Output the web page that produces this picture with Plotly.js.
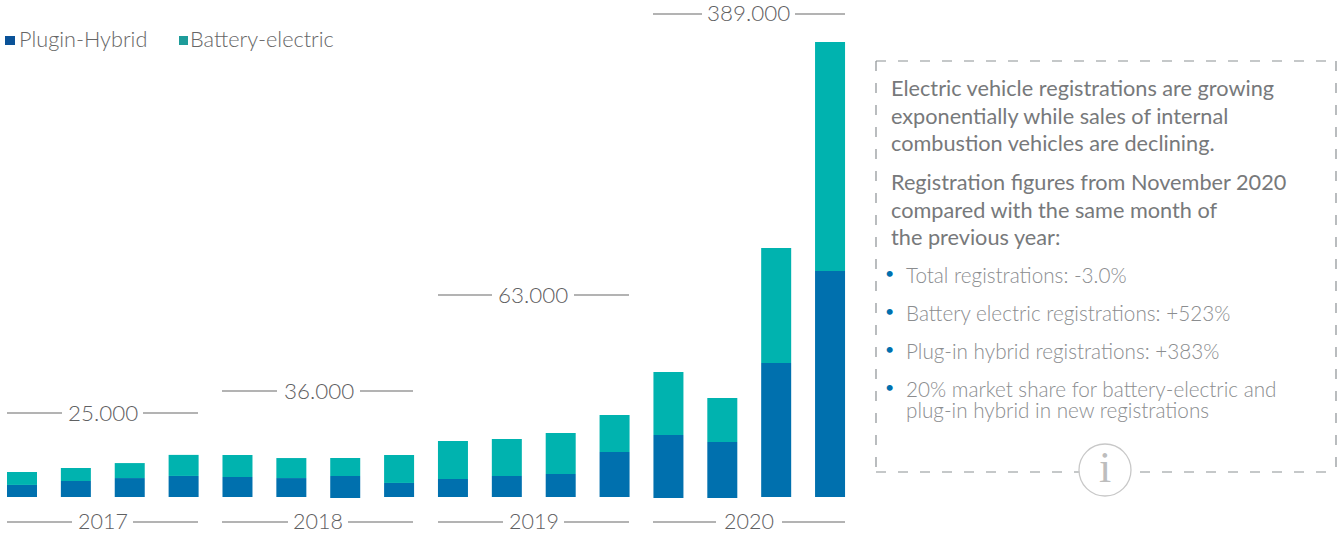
<!DOCTYPE html>
<html><head><meta charset="utf-8">
<script src="https://cdn.plot.ly/plotly-3.0.1.min.js"></script>
<style>html,body{margin:0;padding:0;background:#fff;overflow:hidden}#c{width:1341px;height:535px}</style>
</head><body><div id="c"></div>
<script>
const W = 1341, H = 535;
const quarters = ['2017 Q1','2017 Q2','2017 Q3','2017 Q4','2018 Q1','2018 Q2','2018 Q3','2018 Q4','2019 Q1','2019 Q2','2019 Q3','2019 Q4','2020 Q1','2020 Q2','2020 Q3','2020 Q4'];
const pluginHybrid = [10300,13700,16200,18000,17100,16200,18800,12000,15400,18000,19700,38500,53900,47900,114600,193200];
const batteryElectric = [11100,11100,12800,18000,18800,17100,15400,23900,32500,31600,35100,31600,53900,37600,98300,195800];
const baseOffset = [0,0,0,0,0,0,-855,0,0,0,0,0,-855,-855,0,0];
const yearLabels = ['2017','2018','2019','2020'];
const yearTotals = ['25.000','36.000','63.000','389.000'];
const legendNames = ['Plugin-Hybrid','Battery-electric'];
const introLines = ['Electric vehicle registrations are growing','exponentially while sales of internal','combustion vehicles are declining.','Registration figures from November 2020','compared with the same month of','the previous year:'];
const bullets = ['Total registrations: -3.0%','Battery electric registrations: +523%','Plug-in hybrid registrations: +383%','20% market share for battery-electric and','plug-in hybrid in new registrations'];

const BLUE = '#0070ae', TEAL = '#00b3af';
const idx = quarters.map((_, i) => i);
const sp = 53.87, x0 = 22;
const FONT = 'Lato, sans-serif';
const px = x => x / W, py = y => 1 - y / H;

const traces = [
  {type:'bar', name:legendNames[0], x:idx, y:pluginHybrid, base:baseOffset, marker:{color:BLUE}, width:0.557, hoverinfo:'x+y'},
  {type:'bar', name:legendNames[1], x:idx, y:batteryElectric, base:pluginHybrid.map((v,i)=>v+baseOffset[i]), marker:{color:TEAL}, width:0.557, hoverinfo:'x+y'}
];

const shapes = [], annotations = [];
function line(x1,y1,x2,y2,color,width,dash){
  shapes.push({type:'line',xref:'paper',yref:'paper',x0:px(x1),x1:px(x2),y0:py(y1),y1:py(y2),line:{color,width,dash:dash||'solid'}});
}
function text(t,x,y,size,color,anchor,weight){
  annotations.push({text:t,xref:'paper',yref:'paper',x:px(x),y:py(y),xanchor:anchor||'left',yanchor:'middle',showarrow:false,
    font:{family:FONT,size,color,weight:weight||400},borderpad:0,borderwidth:0});
}
// Year and total brackets
const yearSeg = [[7,72,133,198],[222,288,348,413],[438,503,564,629],[653,716,782,845]];
const totalSeg = [[7,62,143,198,413],[222,277,360,413,391],[438,492,574,629,295],[653,702,795,845,14]];
yearLabels.forEach((t,i)=>{
  const s = yearSeg[i];
  line(s[0],522,s[1],522,'#9a9a9a',1.3); line(s[2],522,s[3],522,'#9a9a9a',1.3);
  text(t,(s[1]+s[2])/2,521,21.5,'#5f6062','center',300);
});
yearTotals.forEach((t,i)=>{
  const s = totalSeg[i];
  line(s[0],s[4],s[1],s[4],'#9a9a9a',1.3); line(s[2],s[4],s[3],s[4],'#9a9a9a',1.3);
  text(t,(s[1]+s[2])/2,s[4]-1,22.4,'#5f6062','center',300);
});
// Legend
shapes.push({type:'rect',xref:'paper',yref:'paper',x0:px(5),x1:px(15),y0:py(36),y1:py(45),fillcolor:'#0a5298',line:{width:0}});
shapes.push({type:'rect',xref:'paper',yref:'paper',x0:px(179),x1:px(188),y0:py(36),y1:py(45),fillcolor:'#1e9c9a',line:{width:0}});
text(legendNames[0],19,39,21.7,'#666666','left',300);
text(legendNames[1],190,39,21.7,'#666666','left',300);
// Dashed box
const DASH='10px,12px', BC='#8c9194';
line(876,61,1336,61,BC,1.2,DASH);
line(876,472,1336,472,BC,1.2,DASH);
line(876,61,876,472,BC,1.2,DASH);
line(1336,61,1336,472,BC,1.2,DASH);
// Info circle
shapes.push({type:'circle',xref:'paper',yref:'paper',x0:px(1079),x1:px(1131),y0:py(444),y1:py(496),fillcolor:'#ffffff',line:{color:'#c8c8c8',width:1.3}});
text('i',1105,467,44,'#bdbdbd','center',400);
annotations[annotations.length-1].font.family='"Liberation Serif", serif';
// Text
const introY=[88,116,143,182,210,237];
introLines.forEach((t,i)=>text(t,891,introY[i],21.7,'#77797b','left',400));
const bulletY=[275,313,351,389,410];
bullets.forEach((t,i)=>text(t,906,bulletY[i],20.7,'#8b8d8f','left',300));
[275,313,351,389].forEach(y=>text('•',889,y-3,16,BLUE,'center',400));

const layout = {
  width:W,height:H,margin:{l:0,r:0,t:0,b:0},paper_bgcolor:'#fff',plot_bgcolor:'rgba(0,0,0,0)',
  barmode:'overlay',showlegend:false,
  xaxis:{range:[-x0/sp,(W-x0)/sp],visible:false,fixedrange:true},
  yaxis:{range:[-38*855,497*855],visible:false,fixedrange:true},
  shapes,annotations,font:{family:FONT}
};
Plotly.newPlot('c',traces,layout,{displayModeBar:false,staticPlot:true});
</script></body></html>
